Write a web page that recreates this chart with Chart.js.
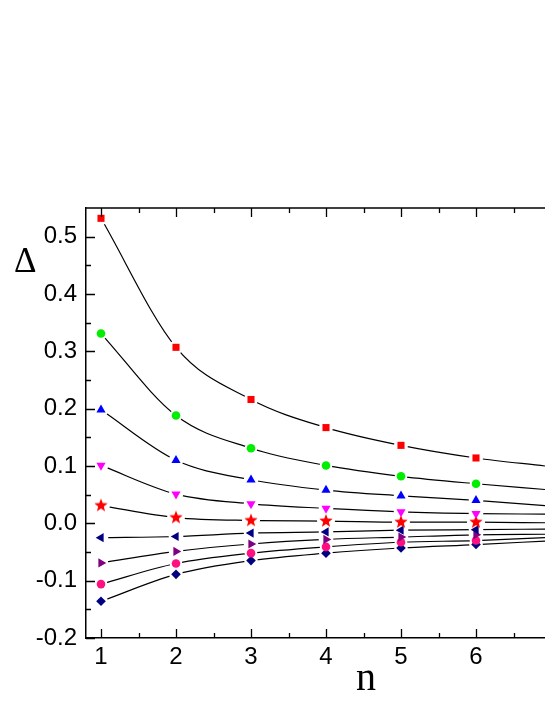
<!DOCTYPE html>
<html>
<head>
<meta charset="utf-8">
<script src="https://cdn.jsdelivr.net/npm/chart.js@4"></script>
<style>
  body { margin: 0; background: #fff; }
  #wrap { position: relative; width: 545px; height: 705px; }
  .lbl { position: absolute; font-family: "Liberation Serif", serif; line-height: 1; color: #000; }
</style>
</head>
<body>
<div id="wrap">
  <canvas id="chart" width="545" height="705"></canvas>
  <div class="lbl" style="left:14px; top:243px; font-size:35px;">Δ</div>
  <div class="lbl" style="left:356px; top:657px; font-size:40px;">n</div>
</div>
<script>
// n values where the points sit, and where the fitted curves end (right edge)
const nValues = [1, 2, 3, 4, 5, 6];
const nEnd = 6.92;

const sSquare   = [0.532, 0.307, 0.216, 0.167, 0.136, 0.114];
const sCircle   = [0.331, 0.188, 0.131, 0.101, 0.082, 0.069];
const sTriUp    = [0.198, 0.110, 0.076, 0.058, 0.048, 0.040];
const sTriDown  = [0.101, 0.051, 0.034, 0.026, 0.020, 0.017];
const sStar     = [0.031, 0.010, 0.005, 0.004, 0.002, 0.002];
const sTriLeft  = [-0.025, -0.023, -0.017, -0.015, -0.012, -0.011];
const sTriRight = [-0.069, -0.049, -0.036, -0.028, -0.024, -0.020];
const sCircle2  = [-0.106, -0.070, -0.052, -0.041, -0.033, -0.030];
const sDiamond  = [-0.136, -0.089, -0.065, -0.052, -0.043, -0.037];

// value of each fitted curve at the right edge
const curveEnd = [0.100, 0.059, 0.031, 0.016, 0.001, -0.010, -0.019, -0.025, -0.031];

const xTicks = [1, 2, 3, 4, 5, 6];
const xMinor = [1.5, 2.5, 3.5, 4.5, 5.5, 6.5];
const yTicks = [-0.2, -0.1, 0.0, 0.1, 0.2, 0.3, 0.4, 0.5];
const yTickLabels = ['-0.2', '-0.1', '0.0', '0.1', '0.2', '0.3', '0.4', '0.5'];
const yMinor = [-0.15, -0.05, 0.05, 0.15, 0.25, 0.35, 0.45];

function makeStar(r, color) {
  const c = document.createElement('canvas');
  c.width = c.height = 2 * r + 2;
  const g = c.getContext('2d');
  g.translate(r + 1, r + 1);
  g.beginPath();
  for (let i = 0; i < 10; i++) {
    const rad = i % 2 === 0 ? r : r * 0.42;
    const a = -Math.PI / 2 + i * Math.PI / 5;
    g.lineTo(rad * Math.cos(a), rad * Math.sin(a));
  }
  g.closePath();
  g.fillStyle = color;
  g.fill();
  return c;
}

const series = [
  { vals: sSquare,   color: '#ff0000', style: 'rect',     radius: 5,   rotation: 0 },
  { vals: sCircle,   color: '#00ee00', style: 'circle',   radius: 4.3, rotation: 0 },
  { vals: sTriUp,    color: '#0000ff', style: 'triangle', radius: 5.3, rotation: 0 },
  { vals: sTriDown,  color: '#ff00ff', style: 'triangle', radius: 5.3, rotation: 180 },
  { vals: sStar,     color: '#ff0000', style: makeStar(7, '#ff0000'), radius: 7, rotation: 0 },
  { vals: sTriLeft,  color: '#000080', style: 'triangle', radius: 5.3, rotation: 270 },
  { vals: sTriRight, color: '#800080', style: 'triangle', radius: 5.3, rotation: 90 },
  { vals: sCircle2,  color: '#ff0f7f', style: 'circle',   radius: 4.3, rotation: 0 },
  { vals: sDiamond,  color: '#000080', style: 'rectRot',  radius: 4.8, rotation: 0 }
];

const toPoints = vals => nValues.map((n, i) => ({ x: n, y: vals[i] }));

// first datasets are drawn on top: markers, then white halos (line gaps), then curves
let markerSets = series.map(s => ({
  type: 'scatter',
  data: toPoints(s.vals),
  pointStyle: s.style,
  pointRadius: s.radius,
  pointRotation: s.rotation,
  backgroundColor: s.color,
  borderColor: s.color,
  borderWidth: 0,
  showLine: false
}));

let haloSets = series.map(s => ({
  type: 'scatter',
  data: toPoints(s.vals),
  pointStyle: 'circle',
  pointRadius: s.radius + 2,
  backgroundColor: '#ffffff',
  borderWidth: 0,
  showLine: false
}));

let curveSets = series.map((s, k) => ({
  type: 'line',
  data: toPoints(s.vals).concat([{ x: nEnd, y: curveEnd[k] }]),
  borderColor: '#000',
  borderWidth: 1.2,
  pointRadius: 0,
  cubicInterpolationMode: 'monotone',
  fill: false
}));

// inward ticks on left, bottom and top, plus the top frame line
const frameTicks = {
  id: 'frameTicks',
  afterDraw(chart) {
    const ctx = chart.ctx;
    const a = chart.chartArea;
    const xs = chart.scales.x, ys = chart.scales.y;
    ctx.save();
    ctx.strokeStyle = '#000';
    ctx.lineWidth = 1.5;
    ctx.beginPath();
    ctx.moveTo(a.left - 0.75, a.top);
    ctx.lineTo(a.right, a.top);
    ctx.stroke();
    ctx.lineWidth = 1.3;
    ctx.beginPath();
    const xt = (v, len) => {
      const px = Math.round(xs.getPixelForValue(v)) + 0.5;
      ctx.moveTo(px, a.bottom); ctx.lineTo(px, a.bottom - len);
      ctx.moveTo(px, a.top); ctx.lineTo(px, a.top + len);
    };
    const yt = (v, len) => {
      const py = Math.round(ys.getPixelForValue(v)) + 0.5;
      ctx.moveTo(a.left, py); ctx.lineTo(a.left + len, py);
    };
    xTicks.forEach(v => xt(v, 9));
    xMinor.forEach(v => xt(v, 5));
    yTicks.forEach(v => yt(v, 9));
    yMinor.forEach(v => yt(v, 5));
    ctx.stroke();
    ctx.restore();
  }
};

let ctx = document.getElementById('chart').getContext('2d');

let myChart = new Chart(ctx, {
  type: 'scatter',
  data: { datasets: markerSets.concat(haloSets, curveSets) },
  options: {
    responsive: false,
    animation: false,
    devicePixelRatio: 1,
    layout: { autoPadding: false, padding: { top: 208, left: 0, right: 0, bottom: 0 } },
    plugins: { legend: { display: false }, tooltip: { enabled: false } },
    scales: {
      x: {
        type: 'linear',
        min: 0.8,
        max: nEnd,
        afterFit: scale => { scale.height = 67; },
        afterBuildTicks: scale => { scale.ticks = xTicks.map(v => ({ value: v })); },
        grid: { display: false, drawTicks: false },
        border: { display: true, color: '#000', width: 1.5 },
        ticks: {
          color: '#000',
          padding: 5,
          font: { family: 'Liberation Sans', size: 24 },
          callback: v => String(v)
        }
      },
      y: {
        type: 'linear',
        min: -0.2,
        max: 0.55,
        afterFit: scale => { scale.width = 86; },
        afterBuildTicks: scale => { scale.ticks = yTicks.map(v => ({ value: v })); },
        grid: { display: false, drawTicks: false },
        border: { display: true, color: '#000', width: 1.5 },
        ticks: {
          color: '#000',
          padding: 9,
          font: { family: 'Liberation Sans', size: 24 },
          callback: (v, i) => yTickLabels[i]
        }
      }
    }
  },
  plugins: [frameTicks]
});
</script>
</body>
</html>
